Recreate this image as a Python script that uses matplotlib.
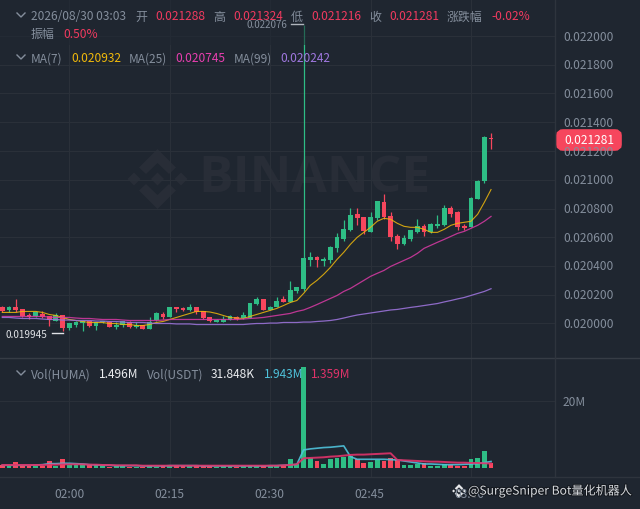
import numpy as np
import matplotlib
matplotlib.use("Agg")
import matplotlib.pyplot as plt
import matplotlib.patheffects as pe
from matplotlib.patches import Polygon, Rectangle, FancyBboxPatch
from matplotlib.lines import Line2D

plt.rcParams['font.family'] = ['Noto Sans CJK SC', 'DejaVu Sans']

# one candle per minute, 01:50 -> 03:03, prices in millionths
opens = [20112,20091,20112,20098,20056,20049,20063,20049,20014,20056,19972,19993,20000,20014,19986,20007,20007,19979,19993,20007,
         19979,19993,19965,20021,20063,20042,20118,20105,20091,20112,20084,20042,20007,20007,20021,20042,20035,20035,20139,20167,
         20091,20112,20167,20153,20223,20237,20439,20460,20432,20439,20523,20585,20648,20760,20739,20634,20732,20843,20746,20606,
         20551,20585,20634,20676,20634,20676,20683,20802,20774,20676,20669,20864,20990,21288]
highs = [20125,20125,20167,20098,20070,20084,20084,20049,20070,20056,20000,20014,20014,20014,20007,20014,20014,20007,20014,20014,
         20007,19993,20042,20077,20077,20118,20118,20112,20139,20112,20084,20042,20028,20049,20056,20049,20077,20146,20181,20167,
         20125,20181,20188,20293,20251,22076,20495,20467,20460,20537,20627,20718,20802,20802,20739,20774,20850,20899,20774,20620,
         20613,20648,20725,20690,20697,20753,20823,20816,20781,20690,20878,20997,21303,21324]
lows = [20077,20077,20077,20042,20028,20042,20035,19986,20014,19945,19958,19979,19950,19979,19958,20000,19979,19965,19979,19972,
        19972,19965,19965,20014,20028,20042,20077,20084,20084,20063,20028,20007,20007,20007,20021,20021,20028,20035,20132,20091,
        20091,20112,20153,20153,20209,20223,20397,20390,20397,20418,20495,20572,20641,20683,20620,20634,20718,20725,20572,20516,
        20544,20572,20627,20606,20627,20662,20676,20739,20648,20648,20669,20864,20976,21216]
closes = [20084,20112,20091,20049,20042,20077,20042,20021,20056,19972,20000,20007,20014,19986,20007,20014,19979,19993,20014,19979,
          19993,19965,20007,20070,20042,20118,20098,20091,20112,20077,20035,20014,20021,20028,20049,20028,20056,20146,20167,20091,
          20118,20160,20153,20230,20251,20453,20460,20439,20446,20530,20599,20655,20753,20732,20641,20739,20850,20739,20599,20551,
          20592,20648,20676,20634,20690,20690,20802,20760,20669,20662,20871,20990,21296,21281]

ma7 = [20077,20077,20077,20084,20084,20084,20077,20063,20056,20042,20028,20021,20014,20007,20007,20007,20000,20000,19993,19993,
       19986,19986,19993,20007,20014,20028,20042,20056,20070,20084,20084,20080,20070,20056,20042,20038,20035,20049,20063,20077,
       20091,20105,20125,20146,20160,20209,20265,20300,20342,20390,20446,20495,20551,20599,20634,20669,20711,20732,20725,20697,
       20676,20669,20669,20655,20634,20634,20655,20683,20697,20704,20711,20760,20843,20932]
ma25 = [20049,20049,20049,20049,20049,20049,20049,20045,20042,20042,20042,20038,20035,20035,20031,20028,20028,20028,20024,20021,
        20021,20021,20021,20021,20024,20028,20028,20028,20028,20028,20028,20028,20028,20028,20028,20028,20031,20035,20038,20042,
        20049,20056,20063,20070,20084,20094,20112,20132,20153,20174,20195,20223,20244,20272,20300,20328,20349,20369,20397,20418,
        20439,20460,20488,20523,20544,20565,20585,20606,20627,20641,20662,20683,20711,20745]
ma99 = [20042,20042,20038,20035,20035,20035,20031,20028,20028,20024,20024,20021,20021,20021,20017,20017,20014,20014,20010,20007,
        20007,20007,20003,20000,20000,20000,19997,19997,19997,19993,19993,19993,19993,19993,19993,19993,19993,19997,20000,20000,
        20003,20003,20007,20007,20007,20010,20010,20014,20017,20021,20028,20038,20049,20059,20066,20073,20080,20087,20094,20098,
        20105,20112,20118,20125,20132,20139,20150,20160,20171,20181,20195,20209,20223,20242]

# volume in millions
volume = [0.9,0.5,1.8,0.6,0.6,0.6,0.6,2.1,0.6,2.7,0.8,0.8,1.2,1.0,0.8,0.5,0.4,0.5,0.5,0.4,
          0.4,0.3,0.8,0.4,0.8,1.0,0.8,0.5,0.6,0.5,0.7,0.5,0.4,0.5,0.6,0.4,0.6,1.0,0.5,0.6,
          0.5,0.6,0.9,2.7,1.2,30.1,3.0,2.1,1.2,2.7,3.0,3.3,3.6,2.7,1.5,1.8,2.4,2.1,3.0,2.4,
          0.9,0.9,1.2,1.5,0.6,0.7,1.2,0.9,0.7,0.7,2.7,3.0,5.1,1.496]
vol_ma5 = [0.8,0.8,0.8,0.8,0.8,0.9,1.0,1.3,1.3,1.4,1.4,1.3,1.2,1.0,0.9,0.8,0.8,0.7,0.7,0.7,
           0.7,0.6,0.6,0.6,0.6,0.7,0.7,0.7,0.7,0.7,0.6,0.6,0.6,0.6,0.6,0.6,0.6,0.6,0.6,0.6,
           0.7,0.7,0.8,0.9,1.1,5.4,5.7,5.9,6.1,6.2,6.4,6.6,3.4,2.6,2.6,2.6,2.6,2.6,2.5,2.4,
           2.1,1.8,1.5,1.2,1.2,1.1,1.0,1.0,1.0,1.1,1.2,1.3,1.6,1.943]
vol_ma10 = [0.9,0.9,0.9,0.9,0.9,0.9,0.9,1.0,1.0,1.1,1.1,1.1,1.1,1.0,1.0,0.9,0.9,0.8,0.8,0.8,
            0.8,0.7,0.7,0.7,0.7,0.7,0.7,0.7,0.7,0.7,0.7,0.7,0.7,0.7,0.7,0.7,0.7,0.7,0.7,0.7,
            0.7,0.7,0.8,0.9,1.1,2.9,3.0,3.1,3.2,3.4,3.5,3.7,3.9,4.0,4.0,4.1,4.2,4.3,4.4,2.4,
            2.3,2.2,2.1,2.0,1.9,1.9,1.8,1.7,1.6,1.6,1.5,1.5,1.4,1.359]

price_ticks = [0.0200,0.0202,0.0204,0.0206,0.0208,0.0210,0.0212,0.0214,0.0216,0.0218,0.0220]
time_ticks = [10,25,40,55,70]
time_labels = ['02:00','02:15','02:30','02:45','03:00']

BG = '#1f2630'
GRID = '#2a3039'
UP = '#2ebd85'
DOWN = '#f6465d'
GREY = '#848e9c'

fig = plt.figure(figsize=(6.4, 5.09), dpi=100, facecolor=BG)

def fx(x): return x / 640
def fy(y): return 1 - y / 509

def label(x, y, s, color=GREY, size=8.6, **kw):
    kw.setdefault('va', 'center')
    # centre baseline text sits about a pixel high, nudge it down
    return fig.text(fx(x), fy(y + 1), s, color=color, fontsize=size, **kw)

ax = fig.add_axes([0, fy(358), fx(555), 358 / 509], facecolor=BG)
vax = fig.add_axes([0, fy(477), fx(555), 119 / 509], facecolor=BG)

x = np.arange(len(opens))
o = np.array(opens) * 1e-6
h = np.array(highs) * 1e-6
l = np.array(lows) * 1e-6
c = np.array(closes) * 1e-6
colors = [UP if b >= a else DOWN for a, b in zip(o, c)]

# watermark logo + text
def logo(axis, cx, cy, k, color, z=0.5):
    diamonds = [[(0,-30),(18.5,-11.5),(11.5,-5),(0,-16),(-11.5,-5),(-18.5,-11.5)],
                [(0,30),(18.5,11.5),(11.5,5),(0,16),(-11.5,5),(-18.5,11.5)],
                [(0,-6.5),(6.5,0),(0,6.5),(-6.5,0)],
                [(-23.5,-6.5),(-17,0),(-23.5,6.5),(-30,0)],
                [(23.5,-6.5),(30,0),(23.5,6.5),(17,0)]]
    for d in diamonds:
        pts = [(fx(cx + k * a), fy(cy + k * b)) for a, b in d]
        axis.add_patch(Polygon(pts, closed=True, transform=fig.transFigure, fc=color, ec='none',
                               zorder=z, clip_on=False))

logo(ax, 157.5, 179, 1.0, '#282d37')
ax.text(fx(198), fy(179), 'BINANCE', transform=fig.transFigure, color='#282d37', fontsize=37,
        fontweight='bold', family='Open Sans', va='center', ha='left', zorder=0.5)

# candles
ax.vlines(x, l, h, colors=colors, lw=0.9, zorder=3)
ax.bar(x, np.maximum(np.abs(c - o), 1.2e-5), bottom=np.minimum(o, c), width=0.72, color=colors, zorder=3)
ax.plot(x, np.array(ma7) * 1e-6, color='#f0b90b', lw=0.8, zorder=4, alpha=0.85)
ax.plot(x, np.array(ma25) * 1e-6, color='#d93aa5', lw=0.9, zorder=4, alpha=0.85)
ax.plot(x, np.array(ma99) * 1e-6, color='#9a72d8', lw=0.9, zorder=4, alpha=0.9)

ax.set_xlim(-0.345, 82.9 - 0.345)
ax.set_ylim(0.02 - 34.5 / 143750, 0.02 + 323.5 / 143750)
ax.set_yticks(price_ticks)
ax.set_xticks(time_ticks)
ax.grid(True, color=GRID, lw=0.8, zorder=0)
ax.set_axisbelow(True)
ax.tick_params(length=0, labelbottom=False, labelleft=False)
for s in ax.spines.values():
    s.set_visible(False)
ax.add_patch(Rectangle((0, fy(45)), fx(340), 45 / 509, transform=fig.transFigure, fc=BG, alpha=0.55,
                       ec='none', zorder=6))

# volume panel
vax.bar(x, volume, width=0.72, color=colors, zorder=3)
vax.plot(x, vol_ma5, color='#4fc3dc', lw=1.2, zorder=4, alpha=0.9)
vax.plot(x, vol_ma10, color='#e0336a', lw=1.4, zorder=5, alpha=0.9)
vax.set_xlim(ax.get_xlim())
vax.set_ylim(-9 / 3.35, 110 / 3.35)
vax.set_yticks([20])
vax.set_xticks(time_ticks)
vax.grid(True, color=GRID, lw=0.8, zorder=0)
vax.set_axisbelow(True)
vax.tick_params(length=0, labelbottom=False, labelleft=False)
for s in vax.spines.values():
    s.set_visible(False)

# separators
fig.add_artist(Line2D([0, 1], [fy(358)] * 2, color='#363c45', lw=1))
fig.add_artist(Line2D([0, 1], [fy(477)] * 2, color='#2e343d', lw=1))
fig.add_artist(Line2D([fx(555)] * 2, [fy(477), 1], color='#2e343d', lw=1))

# axis labels
for p in price_ticks:
    y_px = 323.5 - (p - 0.02) * 143750
    label(563, y_px, '%.6f' % p)
label(563, 401, '20M')
for t, s in zip(time_ticks, time_labels):
    label(3 + t * 6.667, 494, s, ha='center')

# last price tag
fig.add_artist(FancyBboxPatch((fx(560), fy(147)), fx(58), 14 / 509, boxstyle='round,pad=0,rounding_size=0.005',
                              transform=fig.transFigure, fc='#f6465d', ec='#f6465d', lw=5.5))
label(589, 140, '0.021281', color='white', ha='center')

# high / low markers
label(267, 24, '0.022076', size=7, ha='center')
fig.add_artist(Line2D([fx(291), fx(303)], [fy(24)] * 2, color='#b0b5bd', lw=1))
label(6, 333.5, '0.019945', color='#dfe2e6', size=7.2)
fig.add_artist(Line2D([fx(52), fx(63)], [fy(333)] * 2, color='#dfe2e6', lw=1))

# header rows
R = '#f03a5f'
label(31, 16, '2026/08/30 03:03')
for xp, s, col in [(135,'开',GREY),(155,'0.021288',R),(213,'高',GREY),(233,'0.021324',R),(291,'低',GREY),
                   (311,'0.021216',R),(369,'收',GREY),(389,'0.021281',R),(447,'涨跌幅',GREY),(491,'-0.02%',R)]:
    label(xp, 16, s, color=col)
label(31, 33, '振幅')
label(63, 33, '0.50%', color=R)
for xp, s, col in [(31,'MA(7)',GREY),(71,'0.020932','#f0b90b'),(129,'MA(25)',GREY),(175,'0.020745','#e93fb0'),
                   (234,'MA(99)',GREY),(280,'0.020242','#a078e0')]:
    label(xp, 58, s, color=col)
for xp, s, col in [(31,'Vol(HUMA)',GREY),(99,'1.496M','#eaecef'),(147,'Vol(USDT)',GREY),(211,'31.848K','#eaecef'),
                   (264,'1.943M','#4fc3dc'),(311,'1.359M','#e0336a')]:
    label(xp, 374, s, color=col)
for yc in [15, 57, 373]:
    fig.add_artist(Line2D([fx(17), fx(21), fx(25)], [fy(yc - 2), fy(yc + 2), fy(yc - 2)], color=GREY, lw=1))

# square-plaza watermark bottom right
logo(fig.axes[1], 459, 491, 0.23, '#e6e8ea', z=10)
label(468, 490, '@SurgeSniper Bot量化机器人', color='#d6d9dd', size=8.7,
      path_effects=[pe.withStroke(linewidth=1.5, foreground='#14181e')])

plt.savefig('out.png', dpi=100, facecolor=BG)
